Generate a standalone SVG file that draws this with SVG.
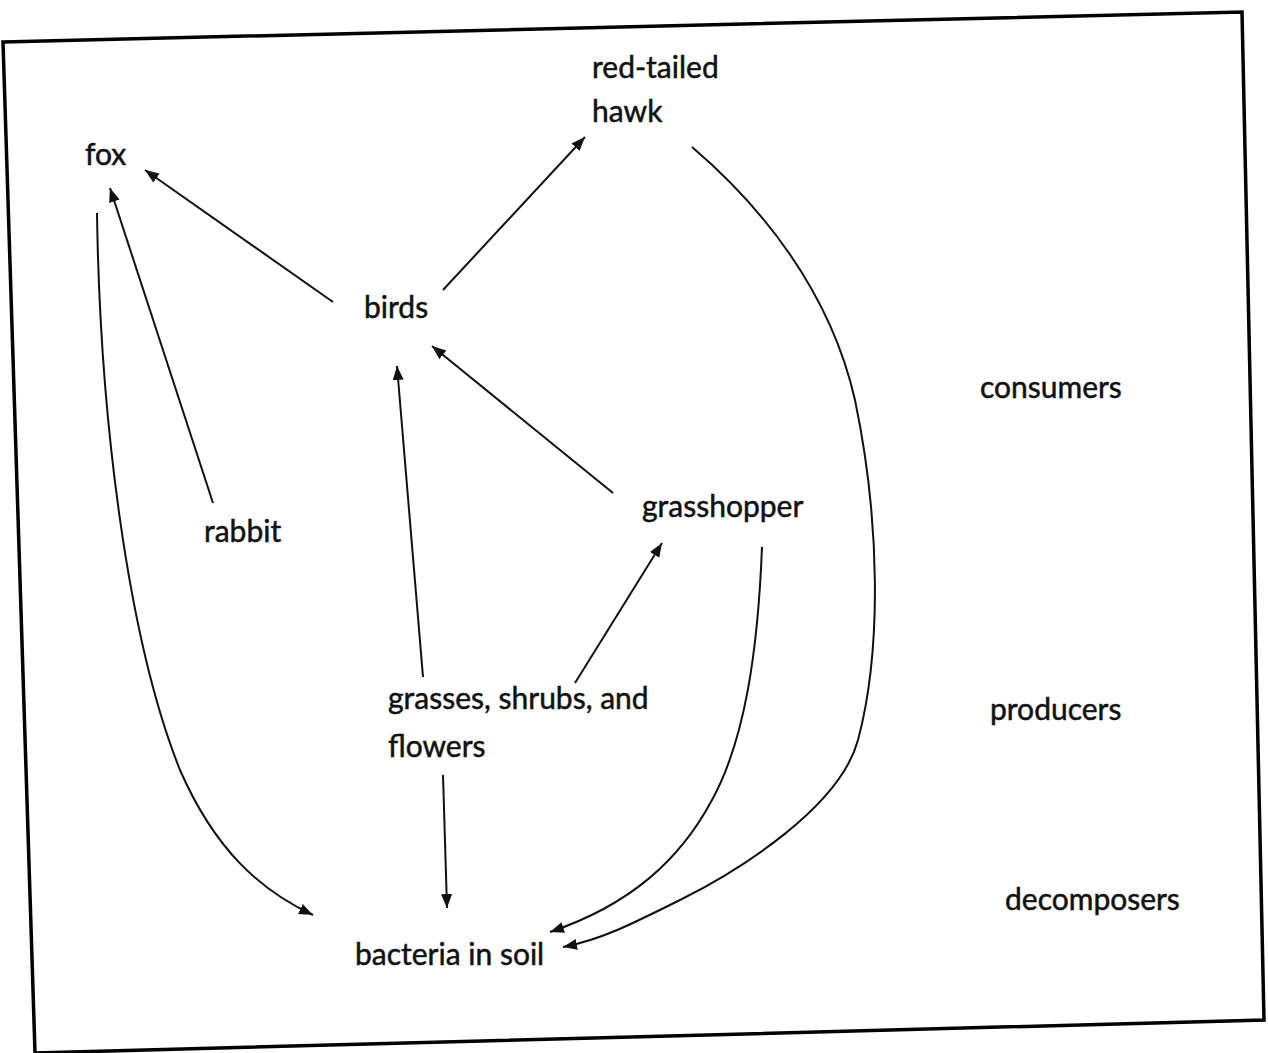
<svg xmlns="http://www.w3.org/2000/svg" width="1268" height="1053" viewBox="0 0 1268 1053">
<style>
.lbl{font-family:Lato,"Open Sans","Liberation Sans",sans-serif;font-size:30px;fill:#111;stroke:#111;stroke-width:0.5}
.edge{fill:none;stroke:#111;stroke-width:2;marker-end:url(#ah)}
.frame{fill:none;stroke:#000;stroke-width:3.5;stroke-linejoin:miter}
</style>
<defs>
<marker id="ah" markerUnits="userSpaceOnUse" markerWidth="16" markerHeight="12" refX="14" refY="5.5" orient="auto">
<path d="M0,0 L14,5.5 L0,11 z" fill="#111"/>
</marker>
</defs>
<rect width="1268" height="1053" fill="#fff"/>
<polygon class="frame" points="3,42 1242,12 1264,1020 35,1053"/>
<g id="connectors">
<path class="edge" d="M333,302 L145,170"/>
<path class="edge" d="M213,503 L110,188"/>
<path class="edge" d="M443,290 L585,137"/>
<path class="edge" d="M613,493 L432,346"/>
<path class="edge" d="M423,677 L397,366"/>
<path class="edge" d="M575,683 L662,543"/>
<path class="edge" d="M443,775 L447,908"/>
<path class="edge" d="M97,213 C100,420 128,640 180,770 C215,850 260,890 313,915"/>
<path class="edge" d="M692,147 C760,205 830,290 855,400 C880,520 882,650 858,740 C840,807 740,870 680,900 C630,925 600,940 563,947"/>
<path class="edge" d="M762,547 C758,650 745,740 712,800 C680,860 630,905 550,932"/>
</g>
<g id="hawk"><text class="lbl" x="592" y="78">red-tailed</text><text class="lbl" x="592" y="122">hawk</text></g>
<g id="fox"><text class="lbl" x="85" y="165">fox</text></g>
<g id="birds"><text class="lbl" x="364" y="318">birds</text></g>
<g id="rabbit"><text class="lbl" x="204" y="542">rabbit</text></g>
<g id="grasshopper"><text class="lbl" x="642" y="517">grasshopper</text></g>
<g id="plants"><text class="lbl" x="388" y="709">grasses, shrubs, and</text><text class="lbl" x="388" y="757">flowers</text></g>
<g id="bacteria"><text class="lbl" x="355" y="965">bacteria in soil</text></g>
<g id="consumers"><text class="lbl" x="980" y="398">consumers</text></g>
<g id="producers"><text class="lbl" x="990" y="720">producers</text></g>
<g id="decomposers"><text class="lbl" x="1005" y="910">decomposers</text></g>
</svg>
